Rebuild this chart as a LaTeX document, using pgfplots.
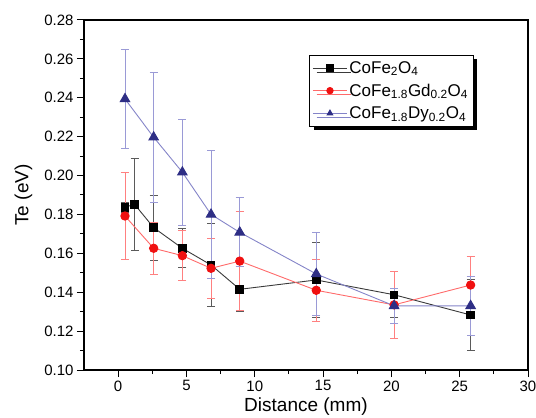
\documentclass[border=0pt]{standalone}
\usepackage{pgfplots}
\pgfplotsset{compat=1.18}
\usepackage{fontspec}
\setmainfont{Liberation Sans}
\usetikzlibrary{shadows}

\definecolor{blkline}{HTML}{3A3A3A}
\definecolor{blkerr}{HTML}{5A5A5A}
\definecolor{redmark}{HTML}{F01010}
\definecolor{redline}{HTML}{FF6A6A}
\definecolor{rederr}{HTML}{FF8080}
\definecolor{bluemark}{HTML}{2E2E85}
\definecolor{blueline}{HTML}{8484C8}
\definecolor{blueerr}{HTML}{9A9AD6}

\pgfplotstableread{
x    y      e
0.5  0.1837 0.0025
1.2  0.1852 0.0237
2.6  0.1732 0.0168
4.7  0.1626 0.0100
6.8  0.1540 0.0213
8.9  0.1415 0.0115
14.5 0.1463 0.0193
20.2 0.1387 0.0118
25.8 0.1283 0.0185
}\cofe

\pgfplotstableread{
x    y      e
0.5  0.1792 0.0225
2.6  0.1626 0.0135
4.7  0.1588 0.0128
6.8  0.1523 0.0154
8.9  0.1560 0.0256
14.5 0.1410 0.0158
20.2 0.1335 0.0172
25.8 0.1437 0.0145
}\cogd

\pgfplotstableread{
x    y      e
0.5  0.2394 0.0253
2.6  0.2197 0.0334
4.7  0.2017 0.0273
6.8  0.1800 0.0327
8.9  0.1708 0.0178
14.5 0.1494 0.0214
20.2 0.1330 0.0090
25.8 0.1330 0.0150
}\cody

\begin{document}
\begin{tikzpicture}
\path[use as bounding box] (-84pt,-48pt) rectangle (452pt,370pt);
\begin{axis}[
  at={(0pt,0pt)}, anchor=south west,
  scale only axis, width=444pt, height=350pt,
  xmin=-2.5, xmax=30, ymin=0.10, ymax=0.28,
  xtick={0,5,10,15,20,25,30},
  ytick={0.10,0.12,0.14,0.16,0.18,0.20,0.22,0.24,0.26,0.28},
  minor x tick num=1, minor y tick num=1,
  tick align=outside, tick pos=left,
  major tick length=7pt, minor tick length=4pt,
  axis line style={line width=1.2pt},
  every tick/.style={line width=1pt, black},
  yticklabel style={/pgf/number format/.cd, fixed, fixed zerofill, precision=2},
  /pgf/number format/assume math mode=true,
  ticklabel style={font=\fontsize{15}{18}\selectfont},
  xlabel={Distance (mm)},
  ylabel={Te (eV)},
  xlabel style={font=\fontsize{19}{22}\selectfont, yshift=0pt},
  ylabel style={font=\fontsize{19}{22}\selectfont, yshift=5pt},
  legend style={at={(0.507,0.9)}, anchor=north west, draw=black,
    line width=0.8pt, fill=white,
    drop shadow={shadow xshift=4pt, shadow yshift=-4pt, fill=black, opacity=1},
    font=\fontsize{17}{20}\selectfont, inner xsep=3pt, inner ysep=4pt,
    row sep=5pt},
  legend cell align=left,
  legend image code/.code={%
    \draw[mark repeat=2, mark phase=2, mark size=3.2pt]
      plot coordinates {(0pt,0pt) (17pt,0pt) (34pt,0pt)};},
]
\addplot[color=blkline, line width=0.9pt, mark=square*, mark size=3.8pt,
  mark options={fill=black, draw=black, solid},
  error bars/.cd, y dir=both, y explicit,
  error bar style={line width=0.9pt, color=blkerr},
  error mark options={rotate=90, mark size=4pt, line width=0.9pt, color=blkerr}]
  table[x=x, y=y, y error=e] {\cofe};
\addlegendentry{CoFe\textsubscript{2}O\textsubscript{4}}

\addplot[color=redline, line width=0.9pt, mark=*, mark size=4.2pt,
  mark options={fill=redmark, draw=redmark, solid},
  error bars/.cd, y dir=both, y explicit,
  error bar style={line width=0.9pt, color=rederr},
  error mark options={rotate=90, mark size=4pt, line width=0.9pt, color=rederr}]
  table[x=x, y=y, y error=e] {\cogd};
\addlegendentry{CoFe\textsubscript{1.8}Gd\textsubscript{0.2}O\textsubscript{4}}

\addplot[color=blueline, line width=0.9pt, mark=triangle*, mark size=5.5pt,
  mark options={fill=bluemark, draw=bluemark, solid},
  error bars/.cd, y dir=both, y explicit,
  error bar style={line width=0.9pt, color=blueerr},
  error mark options={rotate=90, mark size=4pt, line width=0.9pt, color=blueerr}]
  table[x=x, y=y, y error=e] {\cody};
\addlegendentry{CoFe\textsubscript{1.8}Dy\textsubscript{0.2}O\textsubscript{4}}
\end{axis}
\end{tikzpicture}
\end{document}
